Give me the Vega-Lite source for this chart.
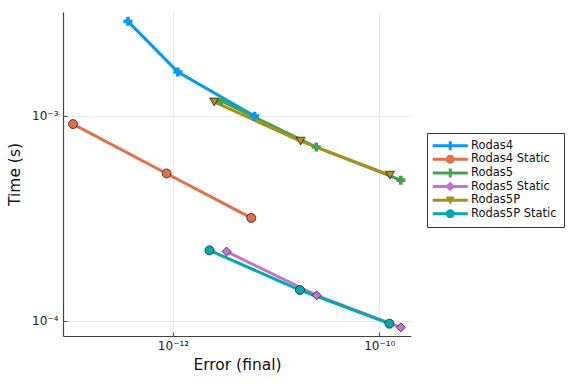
{
  "$schema": "https://vega.github.io/schema/vega-lite/v6.json",
  "width": 348,
  "height": 324,
  "autosize": "none",
  "padding": {"left": 63, "top": 12, "right": 165, "bottom": 48},
  "background": "white",
  "config": {"font": "DejaVu Sans", "view": {"stroke": null}},
  "data": {"values": [
    {"series": "Rodas4", "err": 3.66e-13, "time": 2.89e-3},
    {"series": "Rodas4", "err": 1.117e-12, "time": 1.637e-3},
    {"series": "Rodas4", "err": 6.18e-12, "time": 9.97e-4},
    {"series": "Rodas4 Static", "err": 1.074e-13, "time": 9.12e-4},
    {"series": "Rodas4 Static", "err": 8.67e-13, "time": 5.24e-4},
    {"series": "Rodas4 Static", "err": 5.74e-12, "time": 3.18e-4},
    {"series": "Rodas5", "err": 2.94e-12, "time": 1.183e-3},
    {"series": "Rodas5", "err": 2.45e-11, "time": 7.05e-4},
    {"series": "Rodas5", "err": 1.618e-10, "time": 4.86e-4},
    {"series": "Rodas5 Static", "err": 3.31e-12, "time": 2.18e-4},
    {"series": "Rodas5 Static", "err": 2.47e-11, "time": 1.334e-4},
    {"series": "Rodas5 Static", "err": 1.618e-10, "time": 9.31e-5},
    {"series": "Rodas5P", "err": 2.51e-12, "time": 1.169e-3},
    {"series": "Rodas5P", "err": 1.726e-11, "time": 7.53e-4},
    {"series": "Rodas5P", "err": 1.268e-10, "time": 5.14e-4},
    {"series": "Rodas5P Static", "err": 2.26e-12, "time": 2.21e-4},
    {"series": "Rodas5P Static", "err": 1.70e-11, "time": 1.416e-4},
    {"series": "Rodas5P Static", "err": 1.256e-10, "time": 9.70e-5}
  ]},
  "encoding": {
    "x": {
      "field": "err", "type": "quantitative",
      "scale": {"type": "log", "domain": [8.59e-14, 2.03e-10], "nice": false},
      "axis": {
        "title": "Error (final)", "values": [1e-12, 1e-10],
        "labelExpr": "datum.value < 1e-11 ? '10⁻¹²' : '10⁻¹⁰'",
        "labelFontSize": 12, "labelColor": "#222", "labelPadding": 8,
        "tickSize": -4, "tickColor": "#444",
        "domainColor": "#444", "domainWidth": 1.2,
        "gridColor": "#e8e8e8", "gridWidth": 1,
        "titleFontSize": 15.5, "titleFontWeight": "normal", "titleColor": "#111", "titlePadding": 6
      }
    },
    "y": {
      "field": "time", "type": "quantitative",
      "scale": {"type": "log", "domain": [8.45e-5, 3.21e-3], "nice": false},
      "axis": {
        "title": "Time (s)", "values": [1e-4, 1e-3],
        "labelExpr": "datum.value < 5e-4 ? '10⁻⁴' : '10⁻³'",
        "labelFontSize": 12, "labelColor": "#222", "labelPadding": 9,
        "tickSize": -4, "tickColor": "#444",
        "domainColor": "#444", "domainWidth": 1.2,
        "gridColor": "#e8e8e8", "gridWidth": 1,
        "titleFontSize": 15.5, "titleFontWeight": "normal", "titleColor": "#111", "titlePadding": 9
      }
    }
  },
  "layer": [
    {
      "mark": {"type": "line", "strokeWidth": 3},
      "encoding": {
        "color": {
          "field": "series", "type": "nominal",
          "scale": {
            "domain": ["Rodas4", "Rodas4 Static", "Rodas5", "Rodas5 Static", "Rodas5P", "Rodas5P Static"],
            "range": ["#009AFA", "#E36F47", "#3EA44E", "#C371D2", "#AC8E18", "#00AAAE"]
          },
          "legend": null
        }
      }
    },
    {
      "mark": {"type": "point", "filled": true, "size": 81, "opacity": 1, "strokeWidth": 0.8},
      "encoding": {
        "color": {
          "field": "series", "type": "nominal",
          "scale": {
            "domain": ["Rodas4", "Rodas4 Static", "Rodas5", "Rodas5 Static", "Rodas5P", "Rodas5P Static"],
            "range": ["#009AFA", "#E36F47", "#3EA44E", "#C371D2", "#AC8E18", "#00AAAE"]
          },
          "legend": null
        },
        "shape": {
          "field": "series", "type": "nominal",
          "scale": {
            "domain": ["Rodas4", "Rodas4 Static", "Rodas5", "Rodas5 Static", "Rodas5P", "Rodas5P Static"],
            "range": ["cross", "circle", "cross", "diamond", "triangle-down", "circle"]
          },
          "legend": null
        },
        "stroke": {
          "condition": {"test": "datum.series == 'Rodas4' || datum.series == 'Rodas5'", "value": "transparent"},
          "value": "#222"
        }
      }
    },
    {
      "transform": [{"filter": "false"}],
      "mark": {"type": "point", "filled": true, "size": 81, "opacity": 1, "strokeWidth": 0},
      "encoding": {
        "color": {
          "field": "series", "type": "nominal",
          "scale": {
            "domain": ["Rodas4", "Rodas4 Static", "Rodas5", "Rodas5 Static", "Rodas5P", "Rodas5P Static"],
            "range": ["#009AFA", "#E36F47", "#3EA44E", "#C371D2", "#AC8E18", "#00AAAE"]
          },
          "legend": {
            "title": null, "orient": "none", "legendX": 364, "legendY": 121,
            "symbolSize": 81, "symbolStrokeWidth": 0,
            "symbolOffset": 10.5, "labelOffset": 15, "labelFontSize": 11.5, "labelColor": "#111",
            "rowPadding": 0.6, "padding": 7,
            "strokeColor": "#333", "fillColor": "white"
          }
        },
        "shape": {
          "field": "series", "type": "nominal",
          "scale": {
            "domain": ["Rodas4", "Rodas4 Static", "Rodas5", "Rodas5 Static", "Rodas5P", "Rodas5P Static"],
            "range": [
              "M-3.9,-0.33H3.9V0.33H-3.9Z M-0.33,-1H0.33V1H-0.33Z",
              "M-3.9,-0.33H3.9V0.33H-3.9Z M1,0A1,1 0 1,1 -1,0A1,1 0 1,1 1,0Z",
              "M-3.9,-0.33H3.9V0.33H-3.9Z M-0.33,-1H0.33V1H-0.33Z",
              "M-3.9,-0.33H3.9V0.33H-3.9Z M0,-1.1L1.1,0L0,1.1L-1.1,0Z",
              "M-3.9,-0.33H3.9V0.33H-3.9Z M-1,-0.8H1L0,1Z",
              "M-3.9,-0.33H3.9V0.33H-3.9Z M1,0A1,1 0 1,1 -1,0A1,1 0 1,1 1,0Z"
            ]
          },
          "legend": {
            "title": null, "orient": "none", "legendX": 364, "legendY": 121,
            "symbolSize": 81, "symbolStrokeWidth": 0,
            "symbolOffset": 10.5, "labelOffset": 15, "labelFontSize": 11.5, "labelColor": "#111",
            "rowPadding": 0.6, "padding": 7,
            "strokeColor": "#333", "fillColor": "white"
          }
        }
      }
    }
  ],
  "resolve": {"scale": {"color": "independent", "shape": "independent"}}
}
